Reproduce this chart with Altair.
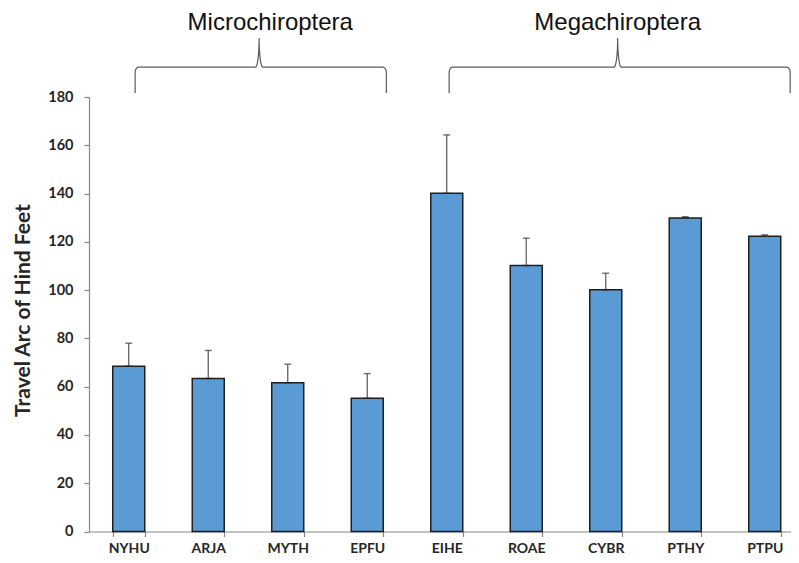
import math
import altair as alt
import pandas as pd

# ---- data ----
categories = ["NYHU", "ARJA", "MYTH", "EPFU", "EIHE", "ROAE", "CYBR", "PTHY", "PTPU"]
means = [68.5, 63.4, 61.6, 55.2, 140.1, 110.2, 100.2, 129.9, 122.3]
errors = [9.5, 11.6, 7.7, 10.2, 24.2, 11.3, 6.8, 0.5, 0.6]

groups = ["Microchiroptera", "Megachiroptera"]
brace_left = [0.58, 4.53]     # in category-index units
brace_right = [3.74, 8.82]
brace_peak = [2.14, 6.65]
label_x = [2.28, 6.65]
brace_foot, brace_bar, brace_tip, label_y = 181.7, 192.4, 204.4, 207.7

df = pd.DataFrame({"cat": categories, "mean": means, "err": errors})
df["top"] = df["mean"] + df["err"]

# ---- layout ----
W, H = 702, 434.5
STEP = 79.5
RANGE = [0, STEP * len(categories)]
pin = 0.5975

AX = "#868686"
TXT = "#262626"
FONT = "Lato"

xscale = alt.Scale(domain=categories, range=RANGE, paddingInner=pin, paddingOuter=pin / 2)
yscale = alt.Scale(domain=[0, 180], nice=False)

base = alt.Chart(df)
bars = base.mark_bar(color="#5B9BD5", stroke="#1f1f1f", strokeWidth=1.5).encode(
    x=alt.X("cat:N", sort=categories, scale=xscale,
            axis=alt.Axis(title=None, labelAngle=0, tickBand="extent", tickSize=5,
                          tickColor=AX, domainColor=AX, labelFont=FONT, labelFontSize=14,
                          labelFontWeight="bold", labelColor=TXT, labelPadding=5,
                          labelBaseline="top",
                          domainWidth=1.2, tickWidth=1.2, orient="bottom")),
    y=alt.Y("mean:Q", scale=yscale,
            axis=alt.Axis(values=list(range(0, 181, 20)), title="Travel Arc of Hind Feet",
                          grid=False, tickSize=5, tickColor=AX, domainColor=AX,
                          domainWidth=1.2, tickWidth=1.2,
                          labelFont=FONT, labelFontSize=14.5, labelFontWeight="bold",
                          labelColor=TXT, labelPadding=11,
                          titleFont=FONT, titleFontSize=21, titleFontWeight="bold",
                          titleColor=TXT, titleX=-66, titleY=213, titleBaseline="middle",
                          titleAngle=270, titleAlign="center")),
)
rule = base.mark_rule(color="#555555", strokeWidth=1.2).encode(
    x=alt.X("cat:N", sort=categories, scale=xscale, axis=None),
    y=alt.Y("mean:Q", scale=yscale),
    y2="top:Q",
)
cap_top = base.mark_tick(color="#333333", size=7, thickness=1.4).encode(
    x=alt.X("cat:N", sort=categories, scale=xscale, axis=None),
    y=alt.Y("top:Q", scale=yscale),
)
cap_bot = base.mark_tick(color="#222222", size=7, thickness=1.4).encode(
    x=alt.X("cat:N", sort=categories, scale=xscale, axis=None),
    y=alt.Y("mean:Q", scale=yscale),
)

# ---- brace shapes (geometry generated from group spans) ----
rx, ry = 0.05, 2.2      # corner rounding
wx = 0.045              # half-width of the central spike
rows = []
n = 8
for g, x0, x1, xp in zip(groups, brace_left, brace_right, brace_peak):
    pts = [(x0, brace_foot)]
    cx, cy = x0 + rx, brace_bar - ry
    for k in range(n + 1):
        t = k / n * math.pi / 2
        pts.append((cx - rx * math.cos(t), cy + ry * math.sin(t)))
    for k in range(n + 1):
        t = k / n * math.pi / 2
        pts.append((xp - wx + wx * math.sin(t), brace_bar + (brace_tip - brace_bar) * (1 - math.cos(t))))
    for k in range(n + 1):
        t = k / n * math.pi / 2
        pts.append((xp + wx - wx * math.cos(t), brace_tip - (brace_tip - brace_bar) * math.sin(t)))
    cx, cy = x1 - rx, brace_bar - ry
    for k in range(n + 1):
        t = k / n * math.pi / 2
        pts.append((cx + rx * math.sin(t), cy + ry * math.cos(t)))
    pts.append((x1, brace_foot))
    for i, (px, py) in enumerate(pts):
        rows.append({"group": g, "i": i, "bx": px, "by": py})
brace_df = pd.DataFrame(rows)

bscale = alt.Scale(domain=[0, len(categories)], range=RANGE, nice=False, zero=False)
brace = alt.Chart(brace_df).mark_line(color="#5a5a5a", strokeWidth=1.2).encode(
    x=alt.X("bx:Q", scale=bscale, axis=None),
    y=alt.Y("by:Q", scale=yscale),
    detail="group:N",
    order="i:Q",
)
glabels = alt.Chart(pd.DataFrame({"group": groups, "lx": label_x, "ly": [label_y] * 2})).mark_text(
    font="Liberation Sans", fontSize=24, color="#111111", baseline="alphabetic", align="center"
).encode(
    x=alt.X("lx:Q", scale=bscale, axis=None),
    y=alt.Y("ly:Q", scale=yscale),
    text="group:N",
)

chart = alt.layer(
    bars, rule, cap_top, cap_bot, brace, glabels,
).resolve_scale(x="independent").resolve_axis(x="independent").properties(
    width=W, height=H,
    autosize=alt.AutoSizeParams(type="none"),
    padding={"left": 81, "top": 89, "right": 0, "bottom": 23.5},
).configure_view(stroke=None)

chart.save("out.html", embed_options={"renderer": "svg", "actions": False})
